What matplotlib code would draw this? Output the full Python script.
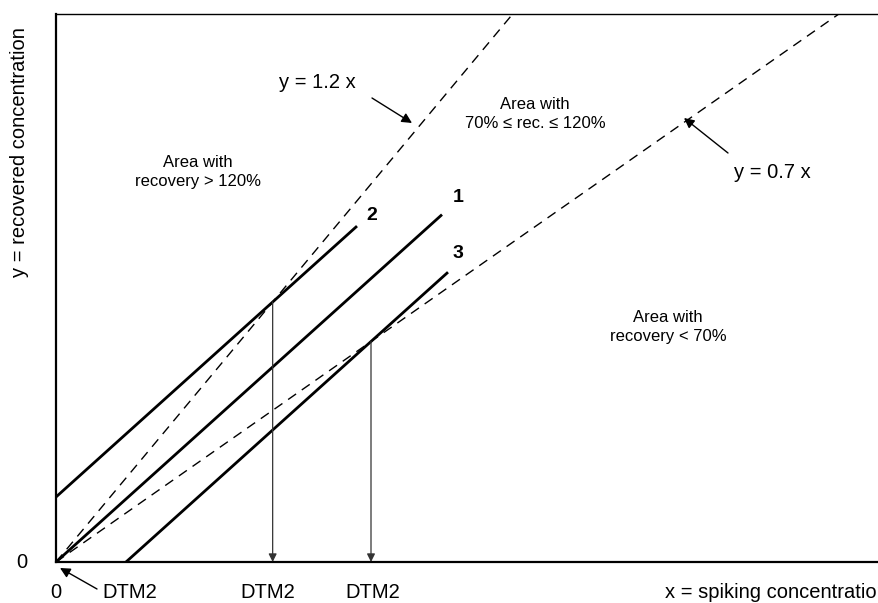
import numpy as np
import matplotlib.pyplot as plt

plt.rcParams['font.family'] = ['Liberation Sans', 'DejaVu Sans']

# limit lines y = k x
k_upper = 1.2
k_lower = 0.7

# calibration lines (slope, intercept, x range) -> 1, 2, 3
slope = 0.9
intercepts = [0.0, 0.65, -0.63]
x_start = [0.0, 0.0, 0.70]
x_end = [3.86, 3.01, 3.92]
line_names = ['1', '2', '3']
name_pos = [(4.02, 3.64), (3.16, 3.47), (4.02, 3.09)]

xmax, ymax = 8.23, 5.48

fig = plt.figure(figsize=(8.79, 6.03), dpi=100)
ax = fig.add_axes([56 / 879, 41 / 603, 823 / 879, 548 / 603])
ax.set_xlim(0, xmax)
ax.set_ylim(0, ymax)

xx = np.array([0, xmax])
ax.plot(xx, k_upper * xx, 'k--', lw=1, dashes=(7, 5))
ax.plot(xx, k_lower * xx, 'k--', lw=1, dashes=(7, 5))

for b, x0, x1, name, pos in zip(intercepts, x_start, x_end, line_names, name_pos):
    xs = np.array([x0, x1])
    ax.plot(xs, slope * xs + b, 'k-', lw=2, solid_capstyle='butt')
    ax.text(pos[0], pos[1], name, fontsize=14, fontweight='bold', ha='center', va='center')

# DTM2 points: line 2 meets y = 1.2x, line 3 meets y = 0.7x
xa = intercepts[1] / (k_upper - slope)
xb = intercepts[2] / (k_lower - slope)
for xi, k in [(xa, k_upper), (xb, k_lower)]:
    ax.annotate('', xy=(xi, 0), xytext=(xi, k * xi),
                arrowprops=dict(arrowstyle='-|>', color='#333333', lw=0.9,
                                mutation_scale=12, shrinkA=0, shrinkB=0))

# area texts
ax.text(1.42, 3.90, 'Area with\nrecovery > 120%', fontsize=12, ha='center', va='center',
        linespacing=1.35)
ax.text(4.79, 4.48, 'Area with\n70% ≤ rec. ≤ 120%', fontsize=12, ha='center', va='center',
        linespacing=1.35)
ax.text(6.12, 2.35, 'Area with\nrecovery < 70%', fontsize=12, ha='center', va='center',
        linespacing=1.35)

# equation labels with arrows
arrow_kw = dict(arrowstyle='-|>', color='k', lw=1, mutation_scale=15, shrinkA=0, shrinkB=0)
ax.text(2.61, 4.79, 'y = 1.2 x', fontsize=14.5, ha='center', va='center')
ax.annotate('', xy=(3.56, 4.39), xytext=(3.16, 4.64), arrowprops=arrow_kw)
ax.text(7.16, 3.89, 'y = 0.7 x', fontsize=14.5, ha='center', va='center')
ax.annotate('', xy=(6.28, 4.44), xytext=(6.72, 4.09), arrowprops=arrow_kw)

# axis decoration
ax.set_xticks([])
ax.set_yticks([])
ax.spines['right'].set_visible(False)
ax.spines['top'].set_linewidth(1)
ax.spines['left'].set_linewidth(1.6)
ax.spines['bottom'].set_linewidth(1.6)

fig.text(22 / 879, 1 - 563 / 603, '0', fontsize=14.5, ha='center', va='center')
fig.text(56 / 879, 1 - 593 / 603, '0', fontsize=14.5, ha='center', va='center')
for px in [130, 268, 373]:
    fig.text(px / 879, 1 - 593 / 603, 'DTM2', fontsize=14.5, ha='center', va='center')
fig.text(665 / 879, 1 - 593 / 603, 'x = spiking concentration', fontsize=14.5,
         ha='left', va='center')
fig.text(20 / 879, 1 - 152 / 603, 'y = recovered concentration', fontsize=14.5,
         ha='center', va='center', rotation=90)

# arrow pointing to the origin
ax.annotate('', xy=(0.04, -0.06), xytext=(0.41, -0.27), arrowprops=arrow_kw,
            annotation_clip=False)

fig.savefig('out.png', dpi=100)
